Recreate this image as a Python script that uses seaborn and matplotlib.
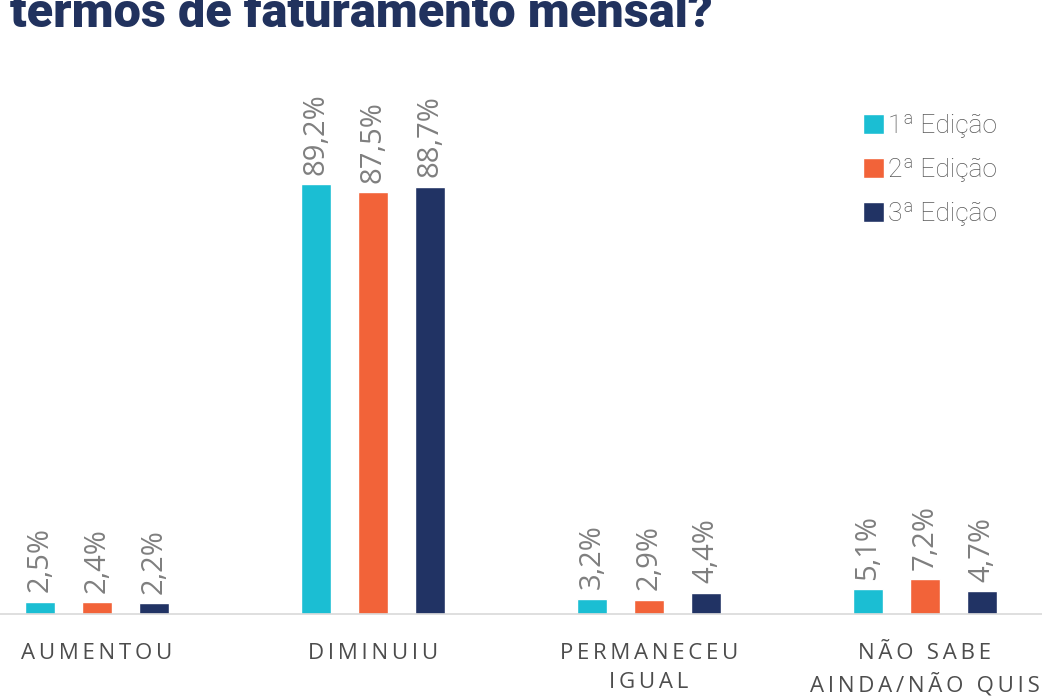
import numpy as np
import pandas as pd
import matplotlib.pyplot as plt
import seaborn as sns

# data
categories = ['AUMENTOU', 'DIMINUIU', 'PERMANECEU\nIGUAL', 'NÃO SABE\nAINDA/NÃO QUIS']
editions = ['1ª Edição', '2ª Edição', '3ª Edição']
ed1 = [2.5, 89.2, 3.2, 5.1]
ed2 = [2.4, 87.5, 2.9, 7.2]
ed3 = [2.2, 88.7, 4.4, 4.7]
colors = ['#1BBED3', '#F26339', '#213364']

title = 'termos de faturamento mensal?'

rows = []
for ed, vals in zip(editions, [ed1, ed2, ed3]):
    for cat, v in zip(categories, vals):
        rows.append({'Categoria': cat, 'Edição': ed, 'Valor': v})
df = pd.DataFrame(rows)

sns.set_style('white')
plt.rcParams['font.family'] = ['Open Sans', 'DejaVu Sans']

fig = plt.figure(figsize=(10.42, 6.99), dpi=100)
ax = fig.add_axes([0, 85 / 699, 1, 554 / 699])

sns.barplot(data=df, x='Categoria', y='Valor', hue='Edição', palette=colors,
            width=0.62, gap=0.47, ax=ax, errorbar=None, saturation=1)

# value labels above bars, rotated
for cont in ax.containers:
    labels = [f'{v:.1f}'.replace('.', ',') + '%' for v in cont.datavalues]
    ax.bar_label(cont, labels=labels, rotation=90, padding=7, fontsize=21,
                 color='#7F7F7F')

ax.set_xlim(-0.351, 3.424)
ax.set_ylim(0, 115)
ax.set_xlabel('')
ax.set_ylabel('')
ax.set_yticks([])

spaced = ['\n'.join('\u2009'.join(line) for line in c.split('\n')) for c in categories]
ax.set_xticks(range(len(categories)))
ax.set_xticklabels(spaced, fontsize=16, color='#4D4D4D', linespacing=1.5)
ax.tick_params(axis='x', length=0, pad=21)

for s in ['top', 'right', 'left']:
    ax.spines[s].set_visible(False)
ax.spines['bottom'].set_color('#D9D9D9')
ax.spines['bottom'].set_linewidth(1.2)

leg = ax.legend(loc='upper left', bbox_to_anchor=(839 / 1042, 1 - 90 / 699),
                bbox_transform=fig.transFigure, frameon=False,
                handlelength=0.8, handleheight=0.8, handletextpad=0.15,
                labelspacing=0.75, prop={'family': 'Roboto', 'size': 19, 'weight': 'light'})
for t in leg.get_texts():
    t.set_color('#595959')

fig.text(10 / 1042, 1 - 27 / 699, title, fontsize=35, fontweight='heavy',
         family='Roboto', color='#21325E', va='baseline', ha='left')

fig.savefig('out.png', dpi=100)
